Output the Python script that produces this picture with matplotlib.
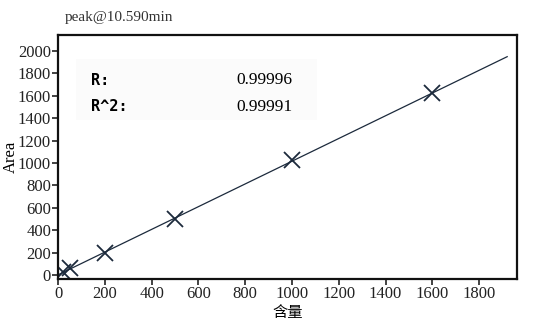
import numpy as np
import matplotlib
matplotlib.use('Agg')
import matplotlib.pyplot as plt

plt.rcParams['font.family'] = ['Liberation Serif', 'Noto Sans CJK SC']

# 标准曲线数据
conc = [20, 50, 200, 500, 1000, 1600]
area = [22, 58, 198, 502, 1022, 1622]
title = 'peak@10.590min'
r_text = '0.99996'
r2_text = '0.99991'
x_ticks = [0, 200, 400, 600, 800, 1000, 1200, 1400, 1600, 1800]
y_ticks = [0, 200, 400, 600, 800, 1000, 1200, 1400, 1600, 1800, 2000]

k, b = np.polyfit(conc, area, 1)
x_line = np.array([0, 1920])

fig = plt.figure(figsize=(5.5, 3.29), dpi=100)
ax = fig.add_axes([0.1055, 0.152, 0.8345, 0.742])
color = '#1c2a3c'
ax.plot(x_line, k * x_line + b, color=color, lw=0.9)
ax.plot(conc, area, 'x', color=color, ms=11, mew=1.3)

ax.set_xlim(0, 1962)
ax.set_ylim(-36, 2143)
ax.set_xticks(x_ticks)
ax.set_yticks(y_ticks)
ax.tick_params(labelsize=12, length=4, width=1.2, pad=1, colors='#222222')
for s in ax.spines.values():
    s.set_linewidth(1.6)
    s.set_color('#111111')

ax.set_xlabel('含量', fontsize=11, labelpad=3)
ax.set_ylabel('Area', fontsize=12, labelpad=-1)
fig.text(0.118, 0.935, title, fontsize=11, color='#333333')

# 相关系数文本框
ax.add_patch(plt.Rectangle((75, 1380), 1030, 550, facecolor='#fbfbfb',
                           edgecolor='none', zorder=0))
ax.text(140, 1740, 'R:', fontsize=11, fontweight='bold',
        family='DejaVu Sans Mono', va='center')
ax.text(140, 1500, 'R^2:', fontsize=11, fontweight='bold',
        family='DejaVu Sans Mono', va='center')
ax.text(761, 1740, r_text, fontsize=12.5, va='center')
ax.text(761, 1500, r2_text, fontsize=12.5, va='center')

fig.savefig('out.png')
